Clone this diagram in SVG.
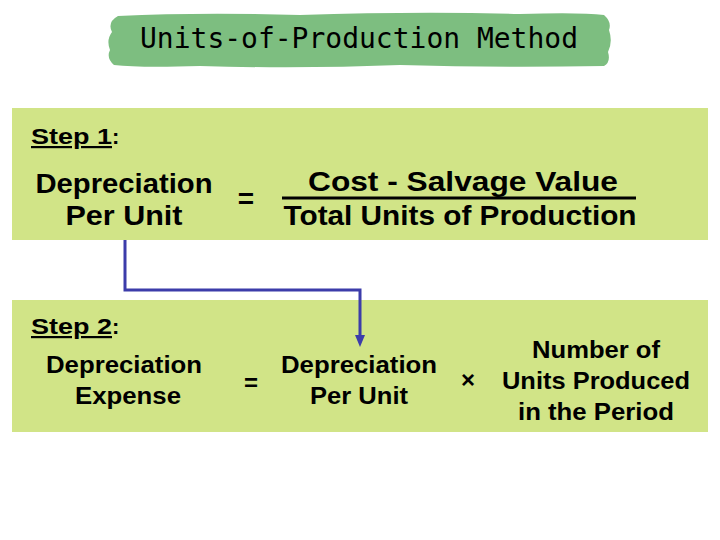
<svg xmlns="http://www.w3.org/2000/svg" width="720" height="540" viewBox="0 0 720 540">
<defs>
<style>
.box{fill:#d1e487}
.t{font-family:"Liberation Sans",Arial,sans-serif;fill:#000;text-anchor:middle;font-weight:bold}
.s1{font-size:28px}
.s2{font-size:24px}
.step{font-family:"Liberation Sans",Arial,sans-serif;font-size:22px;font-weight:bold;fill:#000}
.conn{fill:none;stroke:#3c3caa;stroke-width:3}
</style>
<marker id="ah" markerWidth="12" markerHeight="10" refX="1" refY="5" orient="auto" markerUnits="userSpaceOnUse" viewBox="0 0 12 10">
<path d="M0,0 L12,5 L0,10 Z" fill="#3c3caa"/>
</marker>
</defs>
<rect width="720" height="540" fill="#fff"/>
<g id="title">
<path d="M118,16 Q200,12 300,15 Q420,11 520,14 Q580,12 604,15 Q612,22 609,30 Q613,42 608,52 Q611,62 604,66 Q500,68 400,65 Q300,69 200,66 Q140,68 114,65 Q106,58 110,50 Q106,40 112,32 Q107,22 118,16 Z" fill="#7dbe80"/>
<text x="359" y="48" font-family="'DejaVu Sans Mono',monospace" font-size="28" text-anchor="middle" fill="#000" textLength="438" lengthAdjust="spacingAndGlyphs">Units-of-Production Method</text>
</g>
<g id="step1">
<rect class="box" x="12" y="108" width="696" height="132"/>
<text class="step" x="31" y="144"><tspan text-decoration="underline" textLength="81" lengthAdjust="spacingAndGlyphs">Step 1</tspan>:</text>
<text class="t s1" x="124" y="193" textLength="177" lengthAdjust="spacingAndGlyphs">Depreciation</text>
<text class="t s1" x="124" y="225" textLength="117" lengthAdjust="spacingAndGlyphs">Per Unit</text>
<text class="t s1" x="246" y="208">=</text>
<text class="t s1" x="463" y="191" textLength="310" lengthAdjust="spacingAndGlyphs">Cost  -  Salvage Value</text>
<line x1="282" y1="198" x2="636" y2="198" stroke="#000" stroke-width="3"/>
<text class="t s1" x="460" y="225" textLength="353" lengthAdjust="spacingAndGlyphs">Total Units of Production</text>
</g>
<g id="step2">
<rect class="box" x="12" y="300" width="696" height="132"/>
<text class="step" x="31" y="334"><tspan text-decoration="underline" textLength="81" lengthAdjust="spacingAndGlyphs">Step 2</tspan>:</text>
<text class="t s2" x="124" y="373" textLength="156" lengthAdjust="spacingAndGlyphs">Depreciation</text>
<text class="t s2" x="128" y="404" textLength="106" lengthAdjust="spacingAndGlyphs">Expense</text>
<text class="t s2" x="251" y="391">=</text>
<text class="t s2" x="359" y="373" textLength="156" lengthAdjust="spacingAndGlyphs">Depreciation</text>
<text class="t s2" x="359" y="404" textLength="98" lengthAdjust="spacingAndGlyphs">Per Unit</text>
<text class="t s2" x="468" y="388">×</text>
<text class="t s2" x="596" y="358" textLength="128" lengthAdjust="spacingAndGlyphs">Number of</text>
<text class="t s2" x="596" y="389" textLength="188" lengthAdjust="spacingAndGlyphs">Units Produced</text>
<text class="t s2" x="596" y="420" textLength="156" lengthAdjust="spacingAndGlyphs">in the Period</text>
</g>
<g id="connectors">
<path class="conn" d="M125,240 V290 H360 V336" marker-end="url(#ah)"/>
</g>
</svg>
